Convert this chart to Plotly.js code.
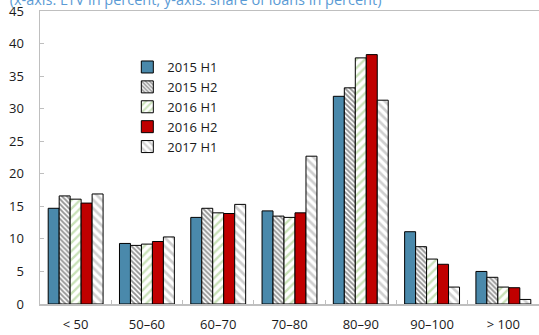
<!DOCTYPE html>
<html>
<head>
<meta charset="utf-8">
<script src="https://cdn.plot.ly/plotly-3.0.1.min.js"></script>
<style>html,body{margin:0;padding:0;background:#fff;}#chart{width:539px;height:335px;}</style>
</head>
<body>
<div id="chart"></div>
<script>
const categories = ['< 50', '50–60', '60–70', '70–80', '80–90', '90–100', '> 100'];
const seriesNames = ['2015 H1', '2015 H2', '2016 H1', '2016 H2', '2017 H1'];
const s2015H1 = [14.7, 9.3, 13.3, 14.3, 31.9, 11.1, 5.0];
const s2015H2 = [16.6, 9.0, 14.7, 13.5, 33.2, 8.8, 4.1];
const s2016H1 = [16.1, 9.2, 14.0, 13.3, 37.8, 6.9, 2.6];
const s2016H2 = [15.5, 9.6, 13.9, 14.0, 38.3, 6.1, 2.5];
const s2017H1 = [16.9, 10.3, 15.3, 22.7, 31.3, 2.6, 0.7];
const yTicks = [0, 5, 10, 15, 20, 25, 30, 35, 40, 45];

const values = [s2015H1, s2015H2, s2016H1, s2016H2, s2017H1];
const styles = [
  {color: '#4a89ab', pattern: {shape: ''}},
  {color: '#ffffff', pattern: {shape: '\\', fgcolor: '#262626', bgcolor: '#ffffff', size: 3.5, solidity: 0.55, fillmode: 'overlay'}},
  {color: '#ffffff', pattern: {shape: '/', fgcolor: '#93c372', bgcolor: '#ffffff', size: 6, solidity: 0.4, fillmode: 'overlay'}},
  {color: '#c00000', pattern: {shape: ''}},
  {color: '#ffffff', pattern: {shape: '\\', fgcolor: '#a0a0a0', bgcolor: '#ffffff', size: 6, solidity: 0.45, fillmode: 'overlay'}}
];

const traces = seriesNames.map((name, i) => ({
  type: 'bar',
  name: name,
  x: categories,
  y: values[i],
  marker: {
    color: styles[i].color,
    pattern: styles[i].pattern,
    line: {color: '#000000', width: 1}
  },
  hoverinfo: 'x+y+name'
}));

const font = {family: '"Open Sans", "Noto Sans", sans-serif', size: 13, color: '#1a1a1a'};

const layout = {
  width: 539,
  height: 335,
  margin: {l: 40, r: 0, t: 11, b: 31, pad: 0},
  paper_bgcolor: '#ffffff',
  plot_bgcolor: '#ffffff',
  font: font,
  barmode: 'group',
  bargap: 0.23,
  bargroupgap: 0,
  showlegend: true,
  title: {
    text: '(x-axis: LTV in percent; y-axis: share of loans in percent)',
    font: {family: '"Open Sans", "Noto Sans", sans-serif', size: 14.5, color: '#5b9bd5'},
    xref: 'container', yref: 'container',
    x: 0.018, xanchor: 'left',
    y: 1.0, yanchor: 'middle'
  },
  legend: {
    x: 0.175, y: 0.86, xanchor: 'left', yanchor: 'top',
    bgcolor: 'rgba(0,0,0,0)',
    font: {family: '"Open Sans", "Noto Sans", sans-serif', size: 13, color: '#1a1a1a'},
    tracegroupgap: 0
  },
  xaxis: {
    type: 'category',
    showgrid: false,
    zeroline: false,
    showline: true,
    linecolor: '#bfbfbf',
    linewidth: 1.5,
    mirror: true,
    ticks: 'inside',
    tickson: 'boundaries',
    ticklen: 4,
    tickcolor: '#bfbfbf',
    ticklabelstandoff: 8,
    tickfont: font
  },
  yaxis: {
    range: [0, 45],
    tickvals: yTicks,
    showgrid: false,
    zeroline: false,
    showline: true,
    linecolor: '#bfbfbf',
    linewidth: 1.5,
    ticks: 'inside',
    ticklen: 4,
    tickcolor: '#bfbfbf',
    ticklabelstandoff: 12,
    tickfont: font
  }
};

Plotly.newPlot('chart', traces, layout, {displayModeBar: false, staticPlot: true});
</script>
</body>
</html>
